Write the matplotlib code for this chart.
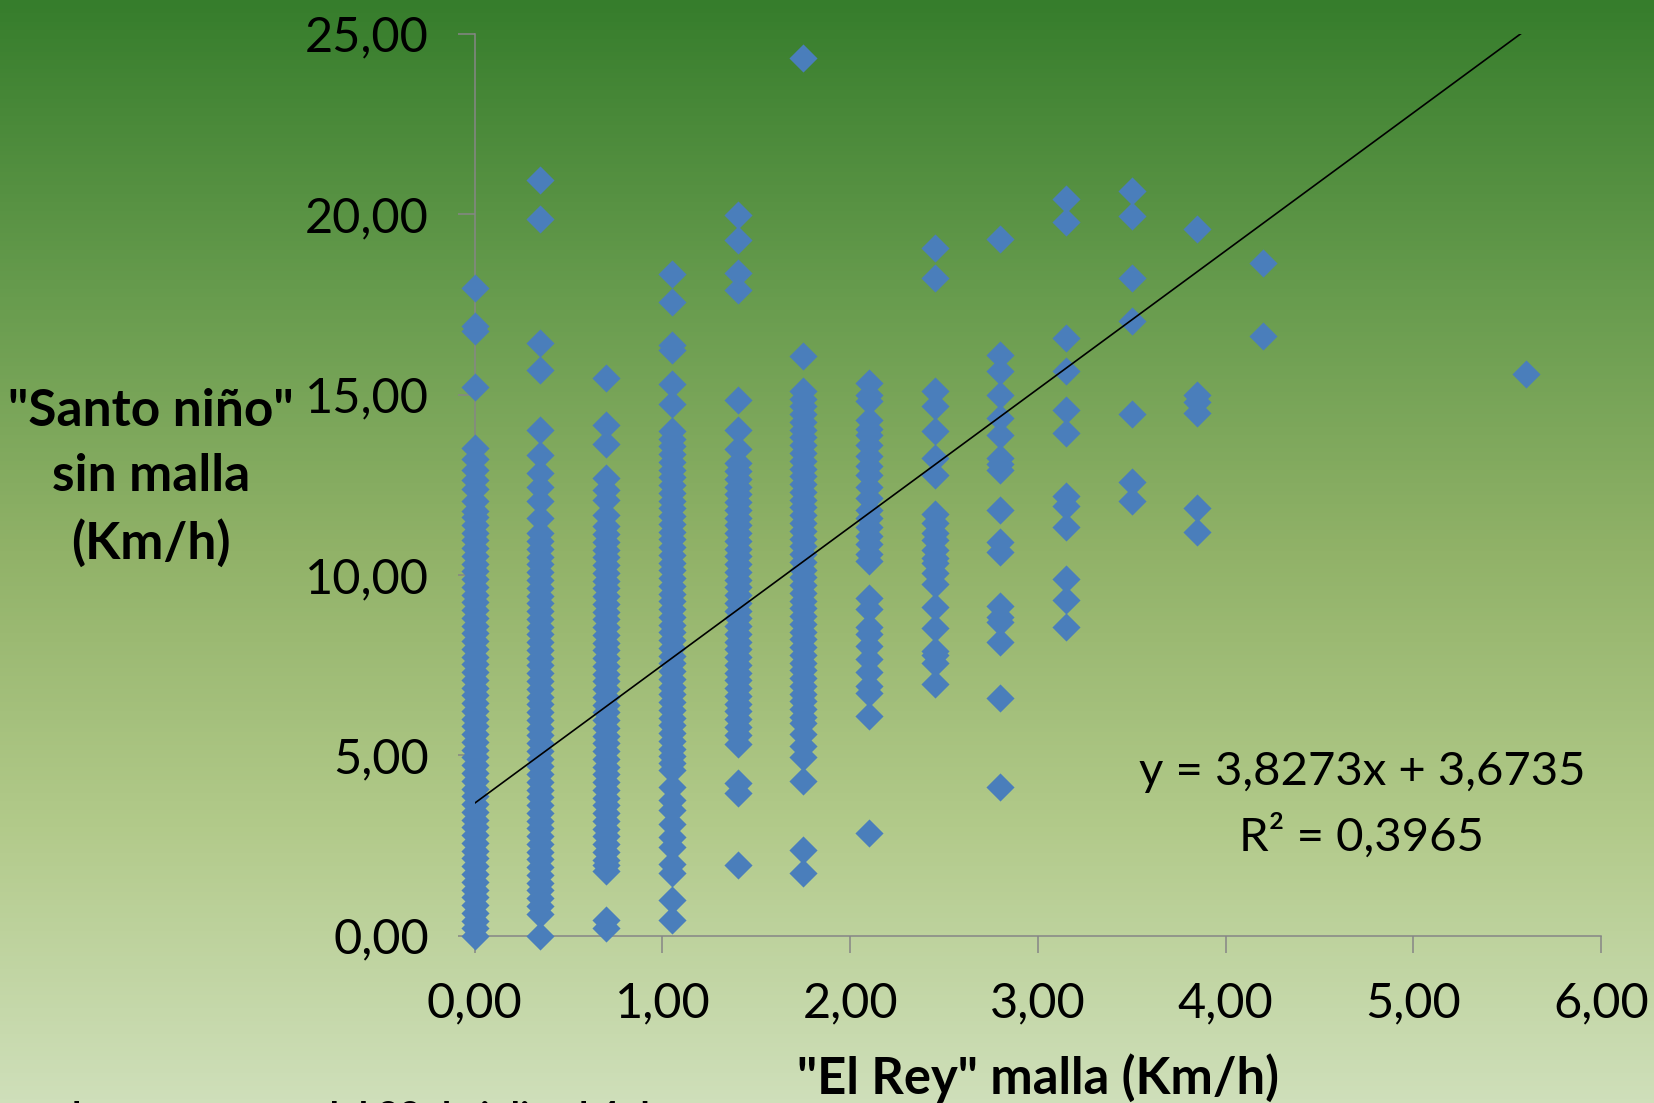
import numpy as np
import matplotlib.pyplot as plt
from matplotlib.colors import LinearSegmentedColormap
from matplotlib.ticker import FuncFormatter

# "El Rey" malla values (x) for each column of points
col_x = [0.00, 0.35, 0.70, 1.05, 1.40, 1.75, 2.10, 2.45, 2.80, 3.15, 3.50, 3.85, 4.20, 5.60]

# "Santo niño" sin malla values read per column
y_000 = [17.94, 16.90, 16.77, 15.20, 13.51, 13.20, 12.90, 12.62, 12.38, 12.05, 11.78,
         11.60, 11.39, 11.17, 10.96, 10.74, 10.52, 10.31, 10.10, 9.88, 9.66, 9.45, 9.24,
         9.02, 8.80, 8.59, 8.38, 8.16, 7.94, 7.73, 7.52, 7.30, 7.08, 6.87, 6.66, 6.44,
         6.22, 6.01, 5.80, 5.58, 5.36, 5.15, 4.94, 4.72, 4.50, 4.29, 4.08, 3.86, 3.64,
         3.43, 3.22, 3.00, 2.78, 2.57, 2.36, 2.14, 1.92, 1.71, 1.50, 1.28, 1.06, 0.85,
         0.64, 0.42, 0.20, 0.00]
y_035 = [20.96, 19.88, 16.42, 15.68, 14.02, 13.33, 12.82, 12.45, 12.04, 11.57,
         11.15, 10.93, 10.72, 10.50, 10.29, 10.07, 9.86, 9.64, 9.43, 9.21, 9.00, 8.78,
         8.57, 8.35, 8.14, 7.92, 7.71, 7.49, 7.28, 7.06, 6.85, 6.63, 6.42, 6.20, 5.99,
         5.77, 5.56, 5.34, 5.13, 4.91, 4.70, 4.48, 4.27, 4.05, 3.84, 3.62, 3.41, 3.19,
         2.98, 2.76, 2.55, 2.33, 2.12, 1.90, 1.69, 1.47, 1.26, 1.04, 0.83, 0.60, 0.00]
y_070 = [15.45, 14.16, 13.62, 12.68, 12.35, 12.08, 11.67,
         11.35, 11.13, 10.92, 10.70, 10.49, 10.27, 10.06, 9.84, 9.63, 9.41, 9.20, 8.98,
         8.77, 8.55, 8.34, 8.12, 7.91, 7.69, 7.48, 7.26, 7.05, 6.83, 6.62, 6.40, 6.19,
         5.97, 5.76, 5.54, 5.33, 5.11, 4.90, 4.68, 4.47, 4.25, 4.04, 3.82, 3.61, 3.39,
         3.18, 2.96, 2.75, 2.53, 2.32, 2.10, 1.95, 1.80, 0.44, 0.21]
y_105 = [18.35, 17.57, 16.37, 16.24, 15.30, 14.75,
         14.00, 13.78, 13.57, 13.35, 13.14, 12.92, 12.71, 12.49, 12.28, 12.06, 11.85,
         11.63, 11.42, 11.20, 10.99, 10.77, 10.56, 10.34, 10.13, 9.91, 9.70, 9.48, 9.27,
         9.05, 8.84, 8.62, 8.41, 8.19, 7.98, 7.76, 7.55, 7.33, 7.12, 6.90, 6.69, 6.47,
         6.26, 6.04, 5.83, 5.61, 5.40, 5.18, 4.97, 4.78, 4.60,
         4.13, 3.76, 3.48, 3.11, 2.74, 2.47, 2.00, 1.73, 0.99, 0.44]
y_140 = [19.97, 19.28, 18.36, 17.90, 14.85, 14.02, 13.50,
         13.10, 12.88, 12.67, 12.45, 12.24, 12.02, 11.81, 11.59, 11.38, 11.16, 10.95,
         10.73, 10.52, 10.30, 10.09, 9.87, 9.66, 9.44, 9.23, 9.01, 8.80, 8.58, 8.37,
         8.15, 7.94, 7.72, 7.51, 7.29, 7.08, 6.86, 6.65, 6.43, 6.22, 6.00, 5.79, 5.57,
         5.30, 4.22, 3.95, 1.96]
y_175 = [24.33, 16.08,
         15.10, 14.88, 14.67, 14.45, 14.24, 14.02, 13.81, 13.59, 13.38, 13.16, 12.95,
         12.73, 12.52, 12.30, 12.09, 11.87, 11.66, 11.44, 11.23, 11.01, 10.80, 10.58,
         10.37, 10.15, 9.94, 9.72, 9.51, 9.29, 9.08, 8.86, 8.65, 8.43, 8.22, 8.00, 7.79,
         7.57, 7.36, 7.14, 6.93, 6.71, 6.50, 6.28, 6.07, 5.90,
         5.60, 5.27, 4.95, 4.30, 2.38, 1.73]
y_210 = [15.31, 14.99, 14.83, 14.30, 14.04, 13.88, 13.61, 13.30, 13.03, 12.76, 12.45,
         12.13, 11.81, 11.59, 11.33, 11.07, 10.85, 10.59, 10.38, 9.37, 9.05, 8.57, 8.36,
         8.04, 7.67, 7.30, 6.93, 6.72, 6.08, 2.84]
y_245 = [19.07, 18.24, 15.09, 14.69, 13.98, 13.24, 12.76, 11.70, 11.44, 11.17, 10.96,
         10.70, 10.48, 10.33, 10.06, 9.74, 9.11, 8.52, 7.89, 7.78, 7.56, 6.98]
y_280 = [19.32, 16.10, 15.64, 14.98, 14.35, 13.87, 13.23, 13.07, 12.91, 11.80, 10.90,
         10.63, 9.15, 8.84, 8.70, 8.15, 6.60, 4.12]
y_315 = [20.43, 19.78, 16.58, 15.64, 14.56, 13.93, 12.18, 11.91, 11.33, 9.90, 9.31, 8.57]
y_350 = [20.63, 19.95, 18.22, 17.05, 14.45, 12.59, 12.06]
y_385 = [19.60, 14.99, 14.78, 14.48, 11.86, 11.20]
y_420 = [18.65, 16.61]
y_560 = [15.56]

col_y = [y_000, y_035, y_070, y_105, y_140, y_175, y_210, y_245,
         y_280, y_315, y_350, y_385, y_420, y_560]

# Excel linear trend line
slope, intercept, r2 = 3.8273, 3.6735, 0.3965

xs = np.concatenate([np.full(len(ys), cx) for cx, ys in zip(col_x, col_y)])
ys = np.concatenate([np.array(v) for v in col_y])

W, H = 1654, 1103
fig = plt.figure(figsize=(W / 100, H / 100), dpi=100)

# green gradient background
bg = fig.add_axes([0, 0, 1, 1], zorder=-5)
cmap = LinearSegmentedColormap.from_list(
    "bg", [(0.0, "#367d2c"), (0.27, "#689c4e"), (0.5, "#91b268"),
           (0.75, "#b2ca8a"), (1.0, "#cfdfba")])
bg.imshow(np.linspace(0, 1, 256).reshape(-1, 1), aspect="auto", cmap=cmap,
          extent=[0, 1, 0, 1])
bg.set_axis_off()

left, right, bottom, top = 474.7, 1601, 935.7, 33.8
ax = fig.add_axes([left / W, 1 - bottom / H, (right - left) / W, (bottom - top) / H])
ax.patch.set_alpha(0)

ax.scatter(xs, ys, marker="D", s=205, color="#4a7ebb", linewidths=0,
           zorder=3, clip_on=False)

x_end = (25 - intercept) / slope
ax.plot([0, x_end], [intercept, 25], color="black", lw=1.2, zorder=4)

ax.set_xlim(0, 6)
ax.set_ylim(0, 25)
ax.set_xticks(np.arange(0, 7, 1))
ax.set_yticks(np.arange(0, 30, 5))
fmt = FuncFormatter(lambda v, p: f"{v:.2f}".replace(".", ","))
ax.xaxis.set_major_formatter(fmt)
ax.yaxis.set_major_formatter(fmt)

for s in ["top", "right"]:
    ax.spines[s].set_visible(False)
for s in ["left", "bottom"]:
    ax.spines[s].set_color("#868686")
    ax.spines[s].set_linewidth(1.1)

ax.tick_params(direction="out", length=12, width=1.1, color="#868686",
               labelsize=35, pad=21, labelcolor="black")
for lab in ax.get_xticklabels() + ax.get_yticklabels():
    lab.set_family("Lato")

fig.text(151 / W, 1 - 478 / H, '"Santo niño"\nsin malla\n(Km/h)', ha="center",
         va="center", fontsize=37, fontweight="bold", family="Lato",
         linespacing=1.47)
fig.text(1038 / W, 1 - 1078 / H, '"El Rey" malla (Km/h)', ha="center",
         va="center", fontsize=36.5, fontweight="bold", family="Lato")

fig.text(1291 * 1.0549 / W, 1 - 772 / H,
         f"y = {slope:.4f}x + {intercept:.4f}".replace(".", ","),
         ha="center", va="center", fontsize=34, family="Lato")
fig.text(1291 * 1.0549 / W, 1 - 836 / H, f"R² = {r2:.4f}".replace(".", ","),
         ha="center", va="center", fontsize=34, family="Lato")

# note below the chart, almost entirely cut off by the bottom edge
fig.text(60 / W, 1 - 1129 / H, "datos en suma, del 22 de julio al 4 de agosto",
         ha="left", va="baseline", fontsize=27, fontweight="bold", family="Lato")

fig.savefig("out.png", dpi=100)
